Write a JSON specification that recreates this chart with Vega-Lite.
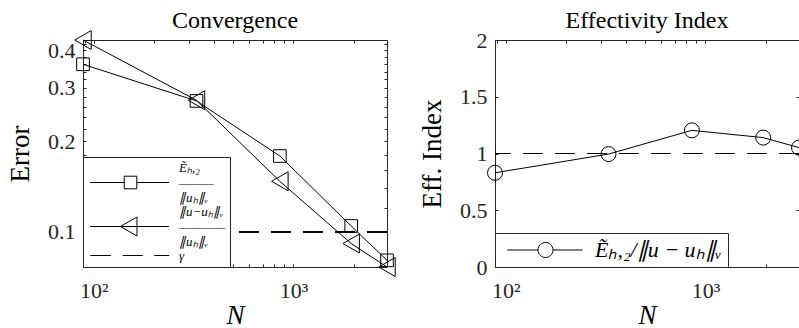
{
  "$schema": "https://vega.github.io/schema/vega-lite/v6.json",
  "background": "white",
  "padding": {"left": 6, "top": 8, "right": 0, "bottom": 0},
  "datasets": {
    "conv": [
      {"N": 88.4, "series": "est", "value": 0.3594},
      {"N": 327, "series": "est", "value": 0.2716},
      {"N": 855, "series": "est", "value": 0.1783},
      {"N": 1945, "series": "est", "value": 0.1045},
      {"N": 2939, "series": "est", "value": 0.0804},
      {"N": 88.4, "series": "err", "value": 0.4326},
      {"N": 327, "series": "err", "value": 0.273},
      {"N": 855, "series": "err", "value": 0.147},
      {"N": 1945, "series": "err", "value": 0.0914},
      {"N": 2939, "series": "err", "value": 0.0764}
    ],
    "effi": [
      {"N": 88.4, "eff": 0.83},
      {"N": 327, "eff": 0.995},
      {"N": 855, "eff": 1.204},
      {"N": 1945, "eff": 1.14},
      {"N": 2939, "eff": 1.052}
    ]
  },
  "spacing": 108,
  "bounds": "flush",
  "resolve": {"scale": {"x": "independent", "y": "independent", "shape": "independent"}, "legend": {"shape": "independent"}},
  "hconcat": [
    {
      "width": 304,
      "height": 227,
      "title": {"text": "Convergence"},
      "data": {"name": "conv"},
      "resolve": {"axis": {"x": "independent", "y": "independent"}},
      "layer": [
        {
          "mark": {"type": "rule", "strokeDash": [20, 12], "color": "#000000", "strokeWidth": 1},
          "encoding": {
            "y": {"datum": 0.1, "type": "quantitative", "scale": {"type": "log", "domain": [0.0764, 0.4326], "nice": false}, "axis": null}
          }
        },
        {
          "mark": {"type": "line", "color": "#000000", "strokeWidth": 1},
          "encoding": {
            "x": {"field": "N", "type": "quantitative", "scale": {"type": "log", "domain": [88.4, 2939], "nice": false},
              "axis": {"orient": "bottom", "values": [100, 1000], "labelExpr": "datum.value == 100 ? '10²' : '10³'", "ticks": false, "labelPadding": 13, "title": "N", "titleFontStyle": "italic", "titlePadding": 1}},
            "y": {"field": "value", "type": "quantitative", "scale": {"type": "log", "domain": [0.0764, 0.4326], "nice": false},
              "axis": {"orient": "left", "values": [0.1, 0.2, 0.3, 0.4], "format": "~g", "ticks": false, "labelPadding": 8, "title": "Error", "titlePadding": 13}},
            "detail": {"field": "series"}
          }
        },
        {
          "transform": [{"filter": "datum.series == 'est'"}],
          "mark": {"type": "point", "shape": "square", "size": 160, "filled": false, "color": "#000000", "strokeWidth": 1, "opacity": 1},
          "encoding": {
            "x": {"field": "N", "type": "quantitative", "scale": {"type": "log", "domain": [88.4, 2939], "nice": false},
              "axis": {"orient": "bottom", "values": [90, 100, 200, 300, 400, 500, 600, 700, 800, 900, 1000, 2000], "labels": false, "tickSize": -3, "title": null}},
            "y": {"field": "value", "type": "quantitative", "scale": {"type": "log", "domain": [0.0764, 0.4326], "nice": false},
              "axis": {"orient": "left", "values": [0.1, 0.12, 0.14, 0.16, 0.18, 0.2, 0.22, 0.24, 0.26, 0.28, 0.3, 0.32, 0.34, 0.36, 0.38, 0.4, 0.42], "labels": false, "tickSize": -3, "title": null}}
          }
        },
        {
          "transform": [{"filter": "datum.series == 'err'"}],
          "mark": {"type": "point", "shape": "triangle-left", "size": 361, "filled": false, "color": "#000000", "strokeWidth": 1, "opacity": 1},
          "encoding": {
            "x": {"field": "N", "type": "quantitative", "scale": {"type": "log", "domain": [88.4, 2939], "nice": false},
              "axis": {"orient": "top", "values": [90, 100, 200, 300, 400, 500, 600, 700, 800, 900, 1000, 2000], "labels": false, "tickSize": -3, "title": null}},
            "y": {"field": "value", "type": "quantitative", "scale": {"type": "log", "domain": [0.0764, 0.4326], "nice": false},
              "axis": {"orient": "right", "values": [0.1, 0.12, 0.14, 0.16, 0.18, 0.2, 0.22, 0.24, 0.26, 0.28, 0.3, 0.32, 0.34, 0.36, 0.38, 0.4, 0.42], "labels": false, "tickSize": -3, "title": null}}
          }
        },
        {
          "transform": [{"filter": "datum.N < 0"}],
          "mark": {"type": "point", "filled": false, "color": "#000000", "size": 144, "strokeWidth": 1, "opacity": 1},
          "encoding": {
            "x": {"field": "N", "type": "quantitative", "scale": {"type": "log", "domain": [88.4, 2939], "nice": false}, "axis": null},
            "y": {"field": "value", "type": "quantitative", "scale": {"type": "log", "domain": [0.0764, 0.4326], "nice": false}, "axis": null},
            "shape": {
              "field": "series", "type": "nominal",
              "scale": {"domain": ["est", "err", "gamma"], "range": [
                "M-0.58,2.5H5.12M7.22,2.5H12.58M5.12,1.45H7.22V3.55H5.12Z",
                "M-0.58,2.5H12.58M4.47,2.5L7.25,0.92V4.08Z",
                "M-0.53,0H2.92M4.87,0H8.2M10.13,0H12.63"
              ]},
              "legend": {
                "title": null, "orient": "bottom-left", "offset": 0, "padding": 4, "rowPadding": 0,
                "strokeColor": "#262626", "fillColor": "white",
                "symbolSize": 144, "symbolStrokeColor": "#000000", "symbolFillColor": "transparent", "symbolStrokeWidth": 1,
                "labelOffset": 79, "labelFontSize": 13, "labelFontStyle": "italic", "labelColor": "#000000", "labelLimit": 0,
                "labelExpr": "datum.value == 'est' ? ['\u00a0\u00a0Ẽₕ,₂', '———', '\u00a0∥uₕ∥ᵥ'] : datum.value == 'err' ? ['∥u−uₕ∥ᵥ', '————', '\u00a0\u00a0\u00a0∥uₕ∥ᵥ'] : 'γ'"
              }
            }
          }
        }
      ]
    },
    {
      "width": 304,
      "height": 227,
      "title": {"text": "Effectivity Index"},
      "data": {"name": "effi"},
      "resolve": {"axis": {"x": "independent", "y": "independent"}},
      "layer": [
        {
          "mark": {"type": "rule", "strokeDash": [20, 12], "color": "#000000", "strokeWidth": 1},
          "encoding": {
            "y": {"datum": 1, "type": "quantitative", "scale": {"domain": [0, 2], "nice": false}, "axis": null}
          }
        },
        {
          "mark": {"type": "line", "color": "#000000", "strokeWidth": 1},
          "encoding": {
            "x": {"field": "N", "type": "quantitative", "scale": {"type": "log", "domain": [88.4, 2939], "nice": false},
              "axis": {"orient": "bottom", "values": [100, 1000], "labelExpr": "datum.value == 100 ? '10²' : '10³'", "ticks": false, "labelPadding": 13, "title": "N", "titleFontStyle": "italic", "titlePadding": 1}},
            "y": {"field": "eff", "type": "quantitative", "scale": {"domain": [0, 2], "nice": false},
              "axis": {"orient": "left", "values": [0, 0.5, 1, 1.5, 2], "format": "~g", "ticks": false, "labelPadding": 8, "title": "Eff. Index", "titlePadding": 13}}
          }
        },
        {
          "mark": {"type": "point", "shape": "circle", "size": 225, "filled": false, "color": "#000000", "strokeWidth": 1, "opacity": 1},
          "encoding": {
            "x": {"field": "N", "type": "quantitative", "scale": {"type": "log", "domain": [88.4, 2939], "nice": false},
              "axis": {"orient": "bottom", "values": [90, 100, 200, 300, 400, 500, 600, 700, 800, 900, 1000, 2000], "labels": false, "tickSize": -3, "title": null}},
            "y": {"field": "eff", "type": "quantitative", "scale": {"domain": [0, 2], "nice": false},
              "axis": {"orient": "left", "values": [0, 0.5, 1, 1.5, 2], "labels": false, "tickSize": -3, "title": null}}
          }
        },
        {
          "transform": [{"filter": "datum.N < 0"}],
          "mark": {"type": "point", "filled": false, "color": "#000000", "size": 144, "strokeWidth": 1, "opacity": 1},
          "encoding": {
            "x": {"field": "N", "type": "quantitative", "scale": {"type": "log", "domain": [88.4, 2939], "nice": false},
              "axis": {"orient": "top", "values": [90, 100, 200, 300, 400, 500, 600, 700, 800, 900, 1000, 2000], "labels": false, "tickSize": -3, "title": null}},
            "y": {"field": "eff", "type": "quantitative", "scale": {"domain": [0, 2], "nice": false},
              "axis": {"orient": "right", "values": [0, 0.5, 1, 1.5, 2], "labels": false, "tickSize": -3, "title": null}},
            "shape": {
              "field": "series", "type": "nominal",
              "scale": {"domain": ["eff"], "range": [
                "M-0.8,0H4.33M6.83,0H11.75M4.33,0A1.25,1.25,0,1,0,6.83,0A1.25,1.25,0,1,0,4.33,0"
              ]},
              "legend": {
                "title": null, "orient": "bottom-left", "offset": 0, "padding": 6,
                "strokeColor": "#262626", "fillColor": "white",
                "symbolSize": 144, "symbolStrokeColor": "#000000", "symbolFillColor": "transparent", "symbolStrokeWidth": 1,
                "labelOffset": 72, "labelFontSize": 22, "labelFontStyle": "italic", "labelColor": "#000000", "labelLimit": 0,
                "labelExpr": "'Ẽₕ,₂/∥u − uₕ∥ᵥ'"
              }
            }
          }
        }
      ]
    }
  ],
  "config": {
    "font": "Liberation Serif",
    "view": {"stroke": "#262626", "strokeWidth": 1},
    "axis": {
      "labelFont": "Liberation Serif", "labelFontSize": 22, "labelColor": "#262626",
      "titleFont": "Liberation Serif", "titleFontSize": 27, "titleFontWeight": "normal", "titleColor": "#000000",
      "tickColor": "#262626", "tickWidth": 1, "grid": false, "domain": false, "labelFlush": false, "labelOverlap": false,
      "minExtent": 0
    },
    "title": {"font": "Liberation Serif", "fontSize": 24, "fontWeight": "normal", "color": "#000000", "offset": -4},
    "legend": {"labelFont": "Liberation Serif"}
  }
}
